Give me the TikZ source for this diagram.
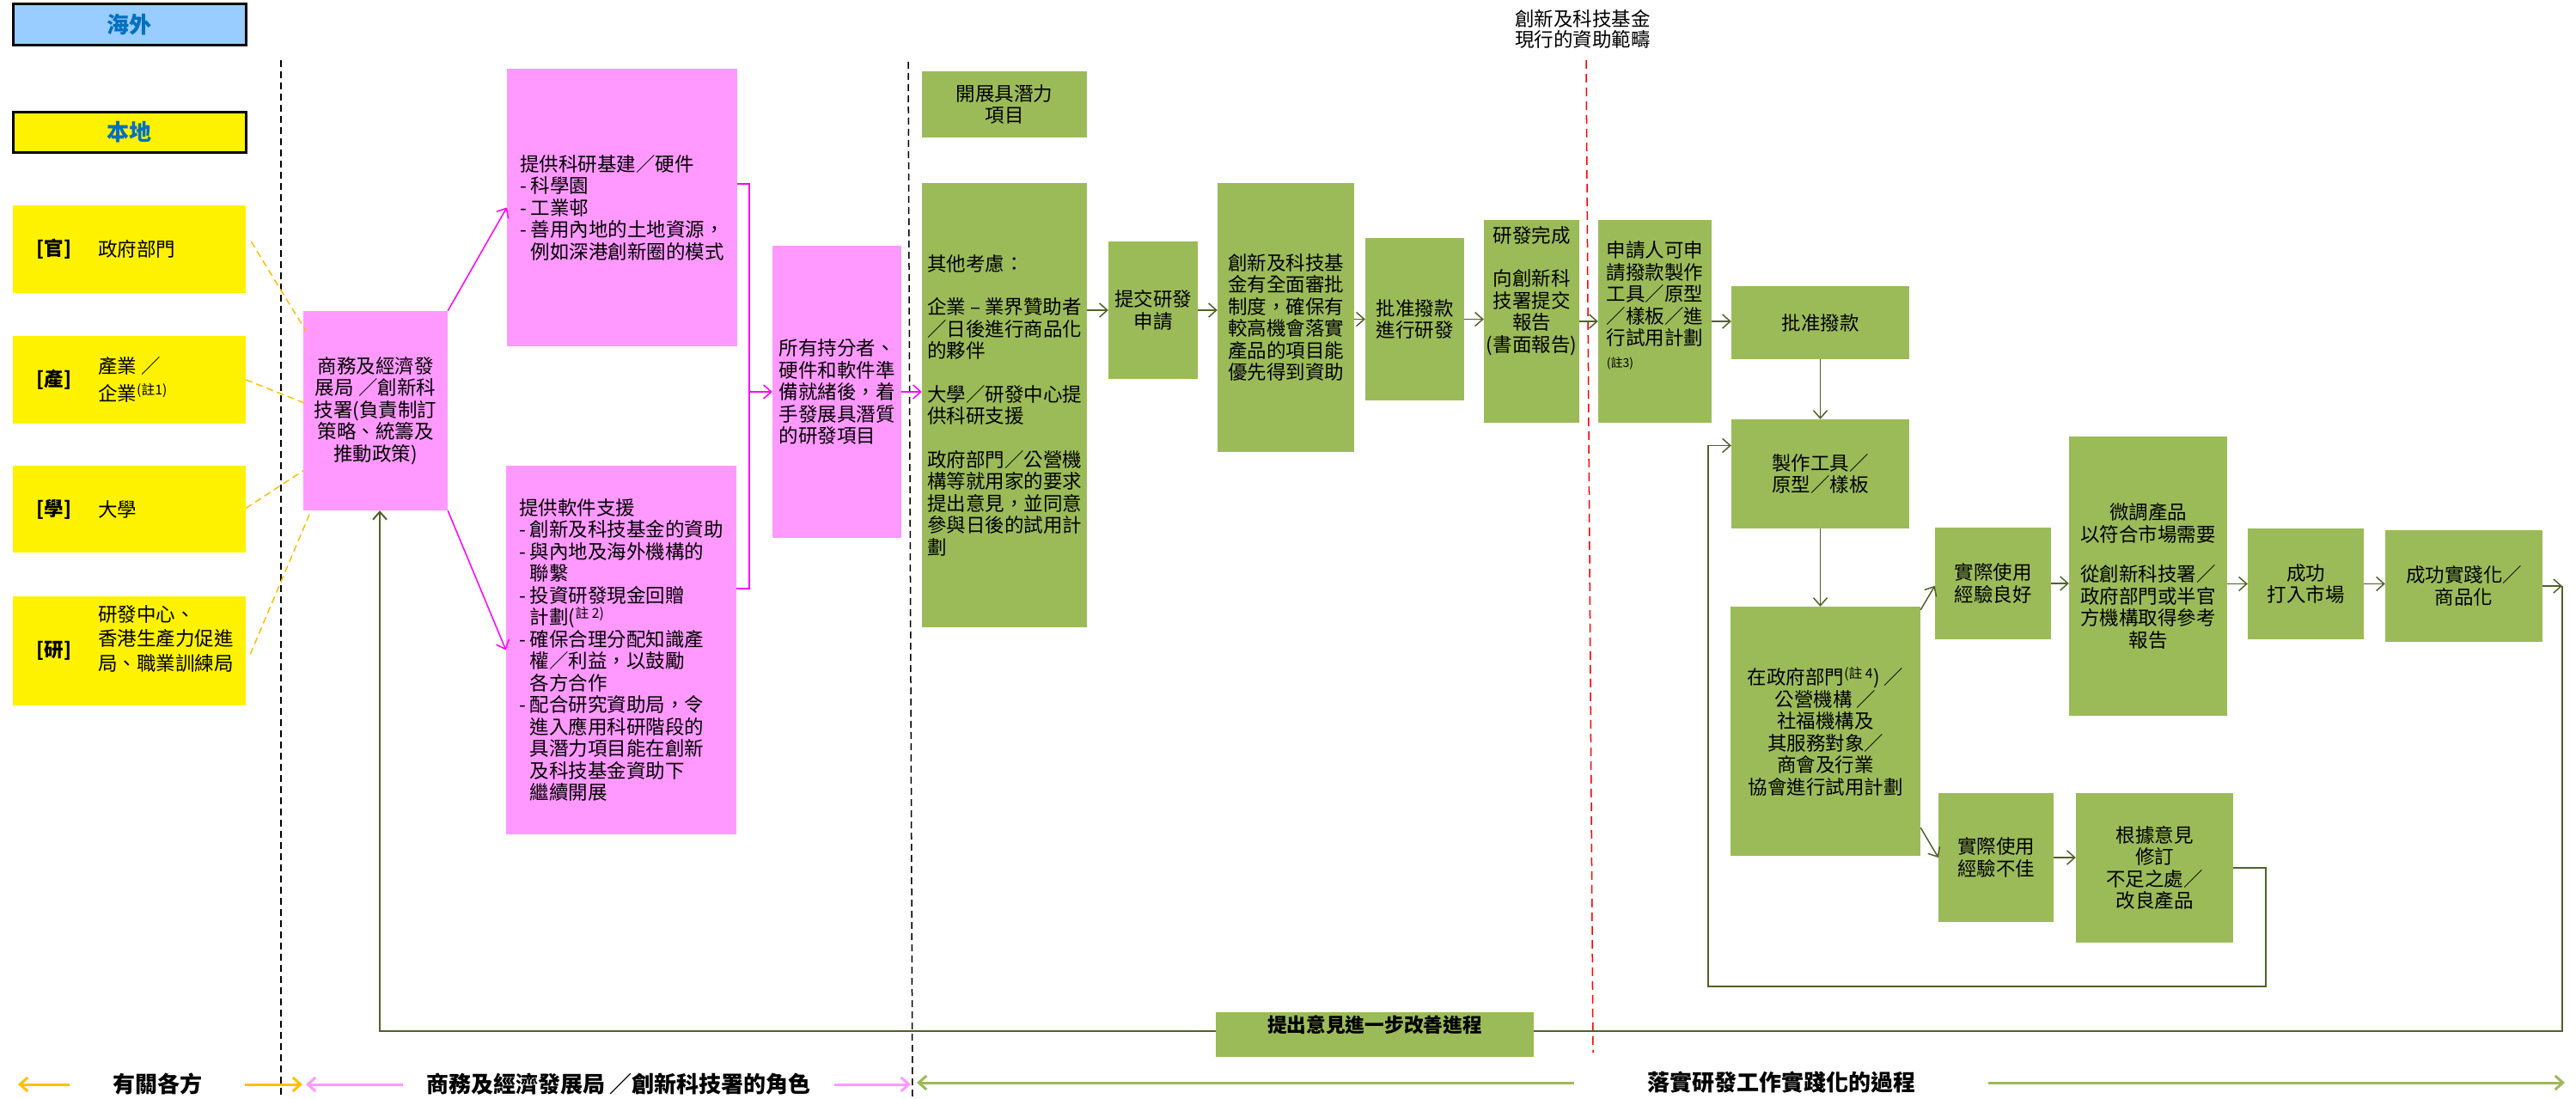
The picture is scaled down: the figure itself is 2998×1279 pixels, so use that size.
\documentclass[tikz,border=0pt]{standalone}
\usepackage{fontspec}
\setmainfont{Noto Sans CJK TC}
\usetikzlibrary{arrows.meta}
\definecolor{pinkfill}{HTML}{FF99FF}
\definecolor{boxgreen}{HTML}{9BBB59}
\definecolor{arrgreen}{HTML}{4F6228}
\definecolor{skyblue}{HTML}{99CCFF}
\definecolor{titleblue}{HTML}{0070C0}
\definecolor{legorange}{HTML}{FFC000}
\definecolor{legpink}{HTML}{FF99FF}
\definecolor{magline}{HTML}{FF00FF}
\begin{document}
\begin{tikzpicture}[x=1pt,y=-1pt,
  font=\fontsize{22.5}{25.5}\selectfont,
  >={Straight Barb[length=9pt,width=16pt]},
  ybox/.style={fill=yellow,minimum width=271,inner sep=0},
  ylabel/.style={font=\fontsize{22.5}{25.5}\selectfont\bfseries,inner sep=0},
  pbox/.style={fill=pinkfill,inner sep=0,align=left},
  gbox/.style={fill=boxgreen,inner sep=0,align=center},
  garr/.style={->,draw=arrgreen,line width=1.5pt},
  parr/.style={->,draw=magline,line width=1.5pt},
  odash/.style={draw=legorange,dash pattern=on 8pt off 5pt,line width=1.5pt},
  legend/.style={font=\fontsize{26}{28}\selectfont\bfseries,inner sep=0}]
\useasboundingbox (0,0) rectangle (2998,1279);
\draw[dash pattern=on 8pt off 5pt,line width=1.5pt] (327,70)--(327,1279);
\draw[dash pattern=on 8pt off 5pt,line width=1.5pt] (1057,72)--(1062,1279);
\draw[red,dash pattern=on 10pt off 6pt,line width=1.5pt] (1846,70)--(1854,1225);
\node[align=center,font=\fontsize{22.5}{24}\selectfont] (fundtitle) at (1842,34) {創新及科技基金\\現行的資助範疇};
\node[fill=skyblue,draw=black,line width=3pt,minimum width=271,minimum height=48,inner sep=0,text=titleblue,font=\fontsize{26}{28}\selectfont\bfseries] (haiwai) at (150.5,29) {海外};
\node[fill=yellow,draw=black,line width=3pt,minimum width=271,minimum height=46,inner sep=0,text=titleblue,font=\fontsize{26}{28}\selectfont\bfseries] (bendi) at (150.5,154) {本地};
\node[ybox,minimum height=102] (guan) at (150.5,290) {};
\node[ylabel] (guanlb) at (63,290) {[官]};
\node[anchor=west,inner sep=0] (guantx) at (114,290) {政府部門};
\node[ybox,minimum height=102] (chan) at (150.5,442) {};
\node[ylabel] (chanlb) at (63,442) {[產]};
\node[anchor=west,inner sep=0,align=left,font=\fontsize{22.5}{32}\selectfont] (chantx) at (114,442) {產業 ／\\企業\textsuperscript{(註1)}};
\node[ybox,minimum height=101] (xue) at (150.5,592.5) {};
\node[ylabel] (xuelb) at (63,592.5) {[學]};
\node[anchor=west,inner sep=0] (xuetx) at (114,592.5) {大學};
\node[ybox,minimum height=127] (yan) at (150.5,757.5) {};
\node[ylabel] (yanlb) at (63,757.5) {[研]};
\node[anchor=west,inner sep=0,align=left,font=\fontsize{22.5}{28.5}\selectfont] (yantx) at (114,743) {研發中心、\\香港生產力促進\\局、職業訓練局};
\coordinate (loopR) at (2982,682);
\coordinate (loopBR) at (2982,1200);
\coordinate (loopBL) at (442,1200);
\node[pbox,align=center,minimum width=168,minimum height=232] (shangwu) at (437,478) {商務及經濟發\\展局 ／創新科\\技署(負責制訂\\策略、統籌及\\推動政策)};
\draw[odash] ([shift={(6,-9)}]guan.east)--([shift={(3,23)}]shangwu.north west);
\draw[odash] (chan.east)--(354,469);
\draw[odash] ([shift={(0,-1)}]xue.east)--(354,547);
\draw[odash] ([shift={(5,4)}]yan.east)--(360,599);
\node[pbox,minimum width=268,minimum height=323] (pinktop) at (724,241.5) {提供科研基建／硬件\\- 科學園\\- 工業邨\\- 善用內地的土地資源，\\\hphantom{- }例如深港創新圈的模式};
\node[pbox,minimum width=268,minimum height=429] (pinkbot) at (723,756.5) {提供軟件支援\\- 創新及科技基金的資助\\- 與內地及海外機構的\\\hphantom{- }聯繫\\- 投資研發現金回贈\\\hphantom{- }計劃(\textsuperscript{註 2)}\\- 確保合理分配知識產\\\hphantom{- }權／利益，以鼓勵\\\hphantom{- }各方合作\\- 配合研究資助局，令\\\hphantom{- }進入應用科研階段的\\\hphantom{- }具潛力項目能在創新\\\hphantom{- }及科技基金資助下\\\hphantom{- }繼續開展};
\node[pbox,minimum width=150,minimum height=340] (pinkright) at (974,456) {所有持分者、\\硬件和軟件準\\備就緒後，着\\手發展具潛質\\的研發項目};
\coordinate (brtop) at (872,214);
\coordinate (brbot) at (872,685);
\draw[magline,line width=1.5pt] (pinktop.east |- brtop)--(brtop)--(brbot)--(pinkbot.east |- brbot);
\draw[parr] (brtop |- pinkright.west)--(pinkright.west);
\draw[parr] (shangwu.north east)--(pinktop.west);
\draw[parr] (shangwu.south east)--(pinkbot.west);
\node[gbox,minimum width=192,minimum height=77] (kaizhan) at (1169,121.5) {開展具潛力\\項目};
\node[gbox,align=left,minimum width=192,minimum height=517] (qita) at (1169,471.5) {其他考慮：\\[25pt]企業 – 業界贊助者\\／日後進行商品化\\的夥伴\\[25pt]大學／研發中心提\\供科研支援\\[25pt]政府部門／公營機\\構等就用家的要求\\提出意見，並同意\\參與日後的試用計\\劃};
\draw[parr] (pinkright.east)--(pinkright.east -| qita.west);
\node[gbox,minimum width=104,minimum height=160] (tijiao) at (1342,361) {提交研發\\申請};
\node[gbox,align=left,minimum width=159,minimum height=313] (chuangxin) at (1496.5,369.5) {創新及科技基\\金有全面審批\\制度，確保有\\較高機會落實\\產品的項目能\\優先得到資助};
\node[gbox,minimum width=115,minimum height=189] (pizhun) at (1646.5,371.5) {批准撥款\\進行研發};
\node[gbox,minimum width=111,minimum height=236] (wancheng) at (1782.5,374) {研發完成\\[25pt]向創新科\\技署提交\\報告\\(書面報告)\\[50pt]\mbox{}};
\node[gbox,align=left,minimum width=132,minimum height=236] (shenqing) at (1926,374) {申請人可申\\請撥款製作\\工具／原型\\／樣板／進\\行試用計劃\\{\fontsize{14}{16}\selectfont(註3)}\\[14pt]\mbox{}};
\node[gbox,minimum width=207,minimum height=85] (bozhuan) at (2118.5,375.5) {批准撥款};
\node[gbox,minimum width=207,minimum height=127] (zhizuo) at (2118.5,551.5) {製作工具／\\原型／樣板};
\node[gbox,minimum width=221,minimum height=290] (shiyong) at (2124.5,851) {在政府部門\textsuperscript{(註 4}) ／\\公營機構 ／\\社福機構及\\其服務對象／\\商會及行業\\協會進行試用計劃};
\node[gbox,minimum width=135,minimum height=130] (lianghao) at (2319.5,679) {實際使用\\經驗良好};
\node[gbox,minimum width=184,minimum height=325] (weitiao) at (2500,670.5) {微調產品\\以符合市場需要\\[21pt]從創新科技署／\\政府部門或半官\\方機構取得參考\\報告};
\node[gbox,minimum width=135,minimum height=129] (chenggong) at (2683.5,679.5) {成功\\打入市場};
\node[gbox,minimum width=183,minimum height=130] (shijian) at (2867.5,682) {成功實踐化／\\商品化};
\node[gbox,minimum width=134,minimum height=150] (bujia) at (2323,998) {實際使用\\經驗不佳};
\node[gbox,minimum width=183,minimum height=174] (genju) at (2507.5,1010) {根據意見\\修訂\\不足之處／\\改良產品};
\draw[garr] (qita.east |- tijiao.west)--(tijiao.west);
\draw[garr] (tijiao.east)--(tijiao.east -| chuangxin.west);
\draw[garr] (chuangxin.east |- pizhun.west)--(pizhun.west);
\draw[garr] (pizhun.east)--(pizhun.east -| wancheng.west);
\draw[garr] (wancheng.east)--(shenqing.west);
\draw[garr] (shenqing.east)--(shenqing.east -| bozhuan.west);
\draw[garr] (bozhuan.south)--(zhizuo.north);
\draw[garr] (zhizuo.south)--(zhizuo.south |- shiyong.north);
\draw[garr] ([shift={(0,4)}]shiyong.north east)--([shift={(0,68)}]lianghao.north west);
\draw[garr] ([shift={(0,-33)}]shiyong.south east)--(bujia.west);
\draw[garr] (lianghao.east)--(lianghao.east -| weitiao.west);
\draw[garr] (weitiao.east |- chenggong.west)--(chenggong.west);
\draw[garr] (chenggong.east)--(chenggong.east -| shijian.west);
\draw[garr] (bujia.east)--(bujia.east -| genju.west);
\draw[garr] (genju.east) -| (2637,1148) -- (1988,1148) |- ([shift={(0,-33)}]zhizuo.west);
\draw[garr] (shijian.east)--(loopR);
\draw[garr,line width=2pt] (loopR)--(loopBR)--(loopBL)--(loopBL |- shangwu.south);
\node[gbox,minimum width=370,minimum height=52,font=\fontsize{22.7}{25}\selectfont\bfseries] (fankui) at (1600,1204) {提出意見進一步改善進程\\[0pt]\mbox{}};
\node[legend,minimum width=204] (legparty) at (183,1262) {有關各方};
\node[legend,minimum width=502] (legrole) at (720,1262) {商務及經濟發展局 ／創新科技署的角色};
\node[legend,minimum width=482] (legprocess) at (2073,1260) {落實研發工作實踐化的過程};
\coordinate (partyL) at (21,1262);
\coordinate (partyR) at (352,1262);
\coordinate (roleL) at (356,1262);
\coordinate (roleR) at (1060,1262);
\coordinate (processL) at (1067,1260);
\coordinate (processR) at (2985,1260);
\draw[->,legorange,line width=3pt] (legparty.west)--(partyL);
\draw[->,legorange,line width=3pt] (legparty.east)--(partyR);
\draw[->,legpink,line width=3pt] (legrole.west)--(roleL);
\draw[->,legpink,line width=3pt] (legrole.east)--(roleR);
\draw[->,boxgreen,line width=3pt] (legprocess.west)--(processL);
\draw[->,boxgreen,line width=3pt] (legprocess.east)--(processR);
\end{tikzpicture}
\end{document}
